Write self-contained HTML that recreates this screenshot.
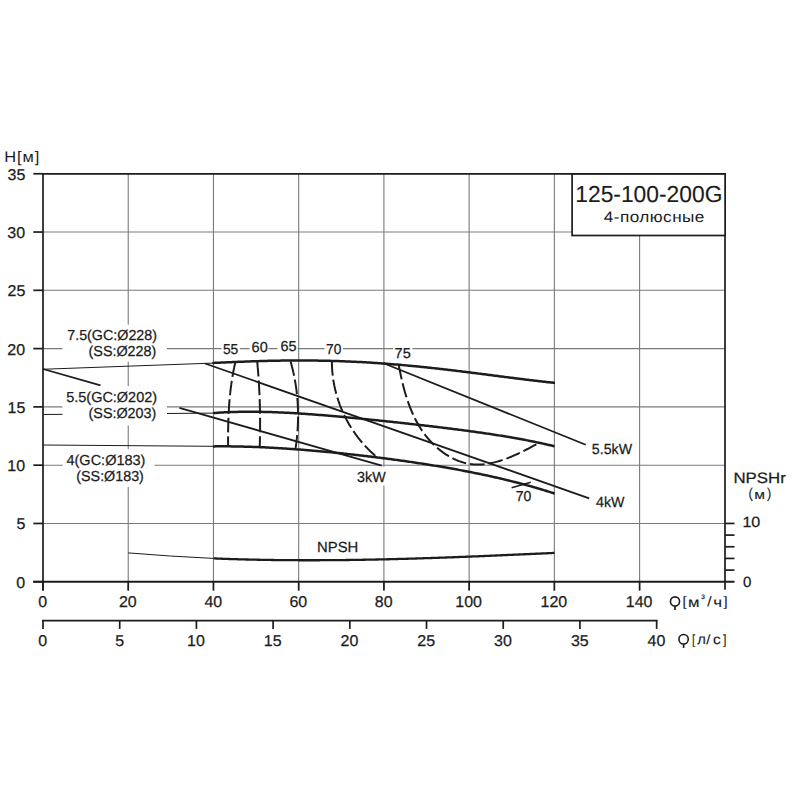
<!DOCTYPE html>
<html><head><meta charset="utf-8"><style>html,body{margin:0;padding:0;background:#fff;width:800px;height:800px;overflow:hidden}svg{display:block}</style></head>
<body><svg width="800" height="800" viewBox="0 0 800 800">
<rect width="800" height="800" fill="#fff"/>
<line x1="128.23" y1="173.75" x2="128.23" y2="590.5" stroke="#7a7a7a" stroke-width="1.1"/>
<line x1="213.46" y1="173.75" x2="213.46" y2="590.5" stroke="#7a7a7a" stroke-width="1.1"/>
<line x1="298.68" y1="173.75" x2="298.68" y2="590.5" stroke="#7a7a7a" stroke-width="1.1"/>
<line x1="383.91" y1="173.75" x2="383.91" y2="590.5" stroke="#7a7a7a" stroke-width="1.1"/>
<line x1="469.14" y1="173.75" x2="469.14" y2="590.5" stroke="#7a7a7a" stroke-width="1.1"/>
<line x1="554.37" y1="173.75" x2="554.37" y2="590.5" stroke="#7a7a7a" stroke-width="1.1"/>
<line x1="639.60" y1="173.75" x2="639.60" y2="590.5" stroke="#7a7a7a" stroke-width="1.1"/>
<line x1="43" y1="523.47" x2="725" y2="523.47" stroke="#7a7a7a" stroke-width="1.1"/>
<line x1="43" y1="465.18" x2="725" y2="465.18" stroke="#7a7a7a" stroke-width="1.1"/>
<line x1="43" y1="406.89" x2="725" y2="406.89" stroke="#7a7a7a" stroke-width="1.1"/>
<line x1="43" y1="348.61" x2="725" y2="348.61" stroke="#7a7a7a" stroke-width="1.1"/>
<line x1="43" y1="290.32" x2="725" y2="290.32" stroke="#7a7a7a" stroke-width="1.1"/>
<line x1="43" y1="232.04" x2="725" y2="232.04" stroke="#7a7a7a" stroke-width="1.1"/>
<line x1="43" y1="369.25" x2="213" y2="363.1" stroke="#1c1c1c" stroke-width="1"/>
<line x1="43" y1="414.5" x2="213" y2="413.1" stroke="#1c1c1c" stroke-width="1"/>
<line x1="43" y1="445" x2="213" y2="446.3" stroke="#1c1c1c" stroke-width="1"/>
<path d="M128.2,552.9 Q170,556.4 213.5,558.4" fill="none" stroke="#1c1c1c" stroke-width="1"/>
<path d="M43,369 L100.5,385.4 M179.4,407.9 L381.75,465.65" stroke="#1c1c1c" stroke-width="1.8"/>
<line x1="205" y1="363.5" x2="589.2" y2="498.3" stroke="#1c1c1c" stroke-width="1.8"/>
<line x1="383" y1="363" x2="585.75" y2="444.75" stroke="#1c1c1c" stroke-width="1.8"/>
<rect x="62.5" y="324.6" width="104.5" height="37.1" fill="#fff"/>
<rect x="62.5" y="386" width="104.5" height="39.5" fill="#fff"/>
<rect x="62.75" y="449.25" width="91.85" height="37.65" fill="#fff"/>
<rect x="355" y="466.8" width="34" height="18.8" fill="#fff"/>
<rect x="221.5" y="341" width="18.5" height="14" fill="#fff"/>
<rect x="249.5" y="341" width="19.0" height="14" fill="#fff"/>
<rect x="277.5" y="341" width="20.100000000000023" height="14" fill="#fff"/>
<rect x="324.5" y="341" width="18.5" height="14" fill="#fff"/>
<rect x="393" y="341" width="19.5" height="14" fill="#fff"/>
<line x1="33.3" y1="581.75" x2="43" y2="581.75" stroke="#1c1c1c" stroke-width="1.7"/>
<line x1="33.3" y1="523.47" x2="43" y2="523.47" stroke="#1c1c1c" stroke-width="1.7"/>
<line x1="33.3" y1="465.18" x2="43" y2="465.18" stroke="#1c1c1c" stroke-width="1.7"/>
<line x1="33.3" y1="406.89" x2="43" y2="406.89" stroke="#1c1c1c" stroke-width="1.7"/>
<line x1="33.3" y1="348.61" x2="43" y2="348.61" stroke="#1c1c1c" stroke-width="1.7"/>
<line x1="33.3" y1="290.32" x2="43" y2="290.32" stroke="#1c1c1c" stroke-width="1.7"/>
<line x1="33.3" y1="232.04" x2="43" y2="232.04" stroke="#1c1c1c" stroke-width="1.7"/>
<line x1="33.3" y1="173.75" x2="43" y2="173.75" stroke="#1c1c1c" stroke-width="1.7"/>
<line x1="43.00" y1="581.75" x2="43.00" y2="590.6" stroke="#1c1c1c" stroke-width="1.7"/>
<line x1="128.23" y1="581.75" x2="128.23" y2="590.6" stroke="#1c1c1c" stroke-width="1.7"/>
<line x1="213.46" y1="581.75" x2="213.46" y2="590.6" stroke="#1c1c1c" stroke-width="1.7"/>
<line x1="298.68" y1="581.75" x2="298.68" y2="590.6" stroke="#1c1c1c" stroke-width="1.7"/>
<line x1="383.91" y1="581.75" x2="383.91" y2="590.6" stroke="#1c1c1c" stroke-width="1.7"/>
<line x1="469.14" y1="581.75" x2="469.14" y2="590.6" stroke="#1c1c1c" stroke-width="1.7"/>
<line x1="554.37" y1="581.75" x2="554.37" y2="590.6" stroke="#1c1c1c" stroke-width="1.7"/>
<line x1="639.60" y1="581.75" x2="639.60" y2="590.6" stroke="#1c1c1c" stroke-width="1.7"/>
<line x1="42.15" y1="173.9" x2="725.85" y2="173.9" stroke="#1c1c1c" stroke-width="1.8"/>
<line x1="43" y1="173" x2="43" y2="590.6" stroke="#1c1c1c" stroke-width="1.7"/>
<line x1="725" y1="173" x2="725" y2="589.7" stroke="#1c1c1c" stroke-width="1.7"/>
<line x1="33.3" y1="581.75" x2="734.5" y2="581.75" stroke="#1c1c1c" stroke-width="1.8"/>
<line x1="725" y1="570.09" x2="734.5" y2="570.09" stroke="#1c1c1c" stroke-width="1.7"/>
<line x1="725" y1="558.43" x2="734.5" y2="558.43" stroke="#1c1c1c" stroke-width="1.7"/>
<line x1="725" y1="546.77" x2="734.5" y2="546.77" stroke="#1c1c1c" stroke-width="1.7"/>
<line x1="725" y1="535.11" x2="734.5" y2="535.11" stroke="#1c1c1c" stroke-width="1.7"/>
<line x1="725" y1="523.45" x2="734.5" y2="523.45" stroke="#1c1c1c" stroke-width="1.7"/>
<line x1="42.15" y1="620.6" x2="657.49" y2="620.6" stroke="#1c1c1c" stroke-width="1.7"/>
<line x1="43.00" y1="620" x2="43.00" y2="628.9" stroke="#1c1c1c" stroke-width="1.7"/>
<line x1="119.71" y1="620" x2="119.71" y2="628.9" stroke="#1c1c1c" stroke-width="1.7"/>
<line x1="196.41" y1="620" x2="196.41" y2="628.9" stroke="#1c1c1c" stroke-width="1.7"/>
<line x1="273.12" y1="620" x2="273.12" y2="628.9" stroke="#1c1c1c" stroke-width="1.7"/>
<line x1="349.82" y1="620" x2="349.82" y2="628.9" stroke="#1c1c1c" stroke-width="1.7"/>
<line x1="426.53" y1="620" x2="426.53" y2="628.9" stroke="#1c1c1c" stroke-width="1.7"/>
<line x1="503.23" y1="620" x2="503.23" y2="628.9" stroke="#1c1c1c" stroke-width="1.7"/>
<line x1="579.94" y1="620" x2="579.94" y2="628.9" stroke="#1c1c1c" stroke-width="1.7"/>
<line x1="656.64" y1="620" x2="656.64" y2="628.9" stroke="#1c1c1c" stroke-width="1.7"/>
<rect x="572.1" y="174" width="153" height="61.5" fill="#fff" stroke="#1c1c1c" stroke-width="1.7"/>
<path d="M212.50,363.00 L213.93,362.93 L215.37,362.87 L216.80,362.80 L218.23,362.73 L219.67,362.66 L221.10,362.60 L222.53,362.53 L223.96,362.47 L225.40,362.40 L226.83,362.34 L228.26,362.27 L229.70,362.21 L231.13,362.15 L232.56,362.09 L234.00,362.03 L235.43,361.97 L236.86,361.91 L238.29,361.85 L239.73,361.79 L241.16,361.74 L242.59,361.68 L244.03,361.63 L245.46,361.57 L246.89,361.52 L248.33,361.47 L249.76,361.42 L251.19,361.37 L252.63,361.32 L254.06,361.27 L255.49,361.23 L256.92,361.18 L258.36,361.14 L259.79,361.10 L261.22,361.06 L262.66,361.02 L264.09,360.98 L265.52,360.94 L266.96,360.91 L268.39,360.87 L269.82,360.84 L271.26,360.81 L272.69,360.78 L274.12,360.75 L275.55,360.72 L276.99,360.69 L278.42,360.67 L279.85,360.64 L281.29,360.62 L282.72,360.60 L284.15,360.58 L285.59,360.57 L287.02,360.55 L288.45,360.54 L289.88,360.53 L291.32,360.51 L292.75,360.50 L294.18,360.50 L295.62,360.49 L297.05,360.49 L298.48,360.48 L299.92,360.48 L301.35,360.48 L302.78,360.49 L304.22,360.49 L305.65,360.50 L307.08,360.50 L308.51,360.51 L309.95,360.52 L311.38,360.54 L312.81,360.55 L314.25,360.57 L315.68,360.58 L317.11,360.60 L318.55,360.63 L319.98,360.65 L321.41,360.67 L322.85,360.70 L324.28,360.73 L325.71,360.76 L327.14,360.79 L328.58,360.83 L330.01,360.86 L331.44,360.90 L332.88,360.94 L334.31,360.98 L335.74,361.03 L337.18,361.07 L338.61,361.12 L340.04,361.17 L341.47,361.22 L342.91,361.27 L344.34,361.33 L345.77,361.38 L347.21,361.44 L348.64,361.50 L350.07,361.56 L351.51,361.63 L352.94,361.69 L354.37,361.76 L355.81,361.83 L357.24,361.90 L358.67,361.97 L360.10,362.05 L361.54,362.12 L362.97,362.20 L364.40,362.28 L365.84,362.36 L367.27,362.45 L368.70,362.53 L370.14,362.62 L371.57,362.71 L373.00,362.80 L374.44,362.89 L375.87,362.99 L377.30,363.09 L378.73,363.18 L380.17,363.28 L381.60,363.39 L383.03,363.49 L384.47,363.59 L385.90,363.70 L387.33,363.81 L388.77,363.92 L390.20,364.03 L391.63,364.15 L393.06,364.26 L394.50,364.38 L395.93,364.50 L397.36,364.62 L398.80,364.74 L400.23,364.86 L401.66,364.99 L403.10,365.12 L404.53,365.24 L405.96,365.37 L407.40,365.51 L408.83,365.64 L410.26,365.77 L411.69,365.91 L413.13,366.05 L414.56,366.19 L415.99,366.33 L417.43,366.47 L418.86,366.61 L420.29,366.76 L421.73,366.90 L423.16,367.05 L424.59,367.20 L426.03,367.35 L427.46,367.50 L428.89,367.65 L430.32,367.81 L431.76,367.96 L433.19,368.12 L434.62,368.28 L436.06,368.43 L437.49,368.59 L438.92,368.76 L440.36,368.92 L441.79,369.08 L443.22,369.25 L444.65,369.41 L446.09,369.58 L447.52,369.75 L448.95,369.91 L450.39,370.08 L451.82,370.25 L453.25,370.42 L454.69,370.60 L456.12,370.77 L457.55,370.94 L458.99,371.12 L460.42,371.29 L461.85,371.47 L463.28,371.65 L464.72,371.82 L466.15,372.00 L467.58,372.18 L469.02,372.36 L470.45,372.54 L471.88,372.72 L473.32,372.90 L474.75,373.08 L476.18,373.26 L477.62,373.45 L479.05,373.63 L480.48,373.81 L481.91,374.00 L483.35,374.18 L484.78,374.36 L486.21,374.55 L487.65,374.73 L489.08,374.92 L490.51,375.10 L491.95,375.28 L493.38,375.47 L494.81,375.65 L496.24,375.84 L497.68,376.02 L499.11,376.21 L500.54,376.39 L501.98,376.58 L503.41,376.76 L504.84,376.94 L506.28,377.13 L507.71,377.31 L509.14,377.49 L510.58,377.67 L512.01,377.86 L513.44,378.04 L514.87,378.22 L516.31,378.40 L517.74,378.58 L519.17,378.76 L520.61,378.94 L522.04,379.11 L523.47,379.29 L524.91,379.47 L526.34,379.64 L527.77,379.82 L529.21,379.99 L530.64,380.16 L532.07,380.33 L533.50,380.50 L534.94,380.67 L536.37,380.84 L537.80,381.01 L539.24,381.17 L540.67,381.34 L542.10,381.50 L543.54,381.66 L544.97,381.82 L546.40,381.98 L547.83,382.14 L549.27,382.29 L550.70,382.44 L552.13,382.60 L553.57,382.75 L555.00,382.89" fill="none" stroke="#1c1c1c" stroke-width="2.5" stroke-linejoin="round"/>
<path d="M213.10,413.11 L214.53,413.00 L215.96,412.90 L217.39,412.79 L218.81,412.70 L220.24,412.61 L221.67,412.52 L223.10,412.44 L224.53,412.36 L225.96,412.29 L227.38,412.22 L228.81,412.16 L230.24,412.10 L231.67,412.05 L233.10,412.00 L234.53,411.96 L235.96,411.92 L237.38,411.88 L238.81,411.85 L240.24,411.82 L241.67,411.80 L243.10,411.78 L244.53,411.76 L245.95,411.75 L247.38,411.74 L248.81,411.74 L250.24,411.73 L251.67,411.74 L253.10,411.74 L254.53,411.75 L255.95,411.76 L257.38,411.78 L258.81,411.80 L260.24,411.82 L261.67,411.85 L263.10,411.88 L264.52,411.91 L265.95,411.94 L267.38,411.98 L268.81,412.02 L270.24,412.07 L271.67,412.11 L273.09,412.16 L274.52,412.21 L275.95,412.27 L277.38,412.32 L278.81,412.38 L280.24,412.45 L281.67,412.51 L283.09,412.58 L284.52,412.65 L285.95,412.72 L287.38,412.79 L288.81,412.87 L290.24,412.94 L291.66,413.02 L293.09,413.11 L294.52,413.19 L295.95,413.28 L297.38,413.36 L298.81,413.45 L300.24,413.55 L301.66,413.64 L303.09,413.73 L304.52,413.83 L305.95,413.93 L307.38,414.03 L308.81,414.13 L310.23,414.24 L311.66,414.34 L313.09,414.45 L314.52,414.56 L315.95,414.67 L317.38,414.78 L318.81,414.89 L320.23,415.00 L321.66,415.12 L323.09,415.23 L324.52,415.35 L325.95,415.47 L327.38,415.59 L328.80,415.71 L330.23,415.83 L331.66,415.96 L333.09,416.08 L334.52,416.21 L335.95,416.33 L337.38,416.46 L338.80,416.59 L340.23,416.72 L341.66,416.85 L343.09,416.98 L344.52,417.11 L345.95,417.24 L347.37,417.38 L348.80,417.51 L350.23,417.65 L351.66,417.79 L353.09,417.92 L354.52,418.06 L355.95,418.20 L357.37,418.34 L358.80,418.48 L360.23,418.62 L361.66,418.76 L363.09,418.90 L364.52,419.04 L365.94,419.19 L367.37,419.33 L368.80,419.48 L370.23,419.62 L371.66,419.77 L373.09,419.91 L374.52,420.06 L375.94,420.21 L377.37,420.35 L378.80,420.50 L380.23,420.65 L381.66,420.80 L383.09,420.95 L384.51,421.10 L385.94,421.25 L387.37,421.40 L388.80,421.55 L390.23,421.71 L391.66,421.86 L393.08,422.01 L394.51,422.17 L395.94,422.32 L397.37,422.48 L398.80,422.63 L400.23,422.79 L401.66,422.94 L403.08,423.10 L404.51,423.26 L405.94,423.42 L407.37,423.57 L408.80,423.73 L410.23,423.89 L411.65,424.05 L413.08,424.21 L414.51,424.37 L415.94,424.53 L417.37,424.70 L418.80,424.86 L420.23,425.02 L421.65,425.18 L423.08,425.35 L424.51,425.51 L425.94,425.68 L427.37,425.84 L428.80,426.01 L430.22,426.18 L431.65,426.35 L433.08,426.52 L434.51,426.68 L435.94,426.85 L437.37,427.03 L438.80,427.20 L440.22,427.37 L441.65,427.54 L443.08,427.72 L444.51,427.89 L445.94,428.07 L447.37,428.24 L448.79,428.42 L450.22,428.60 L451.65,428.78 L453.08,428.96 L454.51,429.14 L455.94,429.32 L457.37,429.50 L458.79,429.69 L460.22,429.87 L461.65,430.06 L463.08,430.24 L464.51,430.43 L465.94,430.62 L467.36,430.81 L468.79,431.01 L470.22,431.20 L471.65,431.39 L473.08,431.59 L474.51,431.79 L475.94,431.98 L477.36,432.19 L478.79,432.39 L480.22,432.59 L481.65,432.79 L483.08,433.00 L484.51,433.21 L485.93,433.42 L487.36,433.63 L488.79,433.84 L490.22,434.06 L491.65,434.27 L493.08,434.49 L494.51,434.71 L495.93,434.93 L497.36,435.16 L498.79,435.38 L500.22,435.61 L501.65,435.84 L503.08,436.07 L504.50,436.31 L505.93,436.54 L507.36,436.78 L508.79,437.02 L510.22,437.27 L511.65,437.51 L513.07,437.76 L514.50,438.01 L515.93,438.27 L517.36,438.52 L518.79,438.78 L520.22,439.04 L521.65,439.31 L523.07,439.57 L524.50,439.84 L525.93,440.12 L527.36,440.39 L528.79,440.67 L530.22,440.95 L531.64,441.24 L533.07,441.53 L534.50,441.82 L535.93,442.11 L537.36,442.41 L538.79,442.71 L540.22,443.02 L541.64,443.33 L543.07,443.64 L544.50,443.96 L545.93,444.27 L547.36,444.60 L548.79,444.93 L550.21,445.26 L551.64,445.59 L553.07,445.93 L554.50,446.27" fill="none" stroke="#1c1c1c" stroke-width="2.5" stroke-linejoin="round"/>
<path d="M213.00,446.40 L214.43,446.39 L215.86,446.37 L217.29,446.36 L218.72,446.35 L220.14,446.34 L221.57,446.34 L223.00,446.34 L224.43,446.34 L225.86,446.34 L227.29,446.35 L228.72,446.36 L230.15,446.37 L231.58,446.39 L233.00,446.40 L234.43,446.42 L235.86,446.45 L237.29,446.47 L238.72,446.50 L240.15,446.53 L241.58,446.56 L243.01,446.60 L244.44,446.63 L245.86,446.67 L247.29,446.71 L248.72,446.76 L250.15,446.80 L251.58,446.85 L253.01,446.90 L254.44,446.95 L255.87,447.00 L257.29,447.06 L258.72,447.12 L260.15,447.18 L261.58,447.24 L263.01,447.31 L264.44,447.37 L265.87,447.44 L267.30,447.51 L268.73,447.58 L270.15,447.66 L271.58,447.73 L273.01,447.81 L274.44,447.89 L275.87,447.97 L277.30,448.05 L278.73,448.14 L280.16,448.22 L281.59,448.31 L283.01,448.40 L284.44,448.49 L285.87,448.59 L287.30,448.68 L288.73,448.78 L290.16,448.88 L291.59,448.98 L293.02,449.08 L294.45,449.18 L295.87,449.28 L297.30,449.39 L298.73,449.50 L300.16,449.61 L301.59,449.72 L303.02,449.83 L304.45,449.94 L305.88,450.06 L307.31,450.17 L308.73,450.29 L310.16,450.41 L311.59,450.53 L313.02,450.65 L314.45,450.77 L315.88,450.90 L317.31,451.03 L318.74,451.15 L320.17,451.28 L321.59,451.41 L323.02,451.54 L324.45,451.67 L325.88,451.81 L327.31,451.94 L328.74,452.08 L330.17,452.22 L331.60,452.36 L333.03,452.50 L334.45,452.64 L335.88,452.78 L337.31,452.92 L338.74,453.07 L340.17,453.22 L341.60,453.36 L343.03,453.51 L344.46,453.66 L345.88,453.81 L347.31,453.97 L348.74,454.12 L350.17,454.27 L351.60,454.43 L353.03,454.59 L354.46,454.75 L355.89,454.91 L357.32,455.07 L358.74,455.23 L360.17,455.39 L361.60,455.56 L363.03,455.72 L364.46,455.89 L365.89,456.06 L367.32,456.23 L368.75,456.40 L370.18,456.57 L371.60,456.74 L373.03,456.92 L374.46,457.09 L375.89,457.27 L377.32,457.44 L378.75,457.62 L380.18,457.80 L381.61,457.99 L383.04,458.17 L384.46,458.35 L385.89,458.54 L387.32,458.72 L388.75,458.91 L390.18,459.10 L391.61,459.29 L393.04,459.48 L394.47,459.67 L395.90,459.87 L397.32,460.06 L398.75,460.26 L400.18,460.46 L401.61,460.66 L403.04,460.86 L404.47,461.06 L405.90,461.26 L407.33,461.47 L408.76,461.67 L410.18,461.88 L411.61,462.09 L413.04,462.30 L414.47,462.51 L415.90,462.72 L417.33,462.94 L418.76,463.15 L420.19,463.37 L421.62,463.59 L423.04,463.81 L424.47,464.03 L425.90,464.26 L427.33,464.48 L428.76,464.71 L430.19,464.94 L431.62,465.17 L433.05,465.40 L434.47,465.63 L435.90,465.87 L437.33,466.10 L438.76,466.34 L440.19,466.58 L441.62,466.82 L443.05,467.06 L444.48,467.31 L445.91,467.56 L447.33,467.81 L448.76,468.06 L450.19,468.31 L451.62,468.56 L453.05,468.82 L454.48,469.08 L455.91,469.34 L457.34,469.60 L458.77,469.86 L460.19,470.13 L461.62,470.39 L463.05,470.66 L464.48,470.94 L465.91,471.21 L467.34,471.49 L468.77,471.76 L470.20,472.04 L471.63,472.33 L473.05,472.61 L474.48,472.90 L475.91,473.19 L477.34,473.48 L478.77,473.77 L480.20,474.07 L481.63,474.37 L483.06,474.67 L484.49,474.97 L485.91,475.28 L487.34,475.59 L488.77,475.90 L490.20,476.21 L491.63,476.53 L493.06,476.85 L494.49,477.17 L495.92,477.49 L497.35,477.82 L498.77,478.15 L500.20,478.48 L501.63,478.81 L503.06,479.15 L504.49,479.49 L505.92,479.84 L507.35,480.18 L508.78,480.53 L510.21,480.89 L511.63,481.24 L513.06,481.60 L514.49,481.96 L515.92,482.33 L517.35,482.69 L518.78,483.07 L520.21,483.44 L521.64,483.82 L523.06,484.20 L524.49,484.58 L525.92,484.97 L527.35,485.36 L528.78,485.76 L530.21,486.16 L531.64,486.56 L533.07,486.96 L534.50,487.37 L535.92,487.79 L537.35,488.20 L538.78,488.62 L540.21,489.05 L541.64,489.47 L543.07,489.91 L544.50,490.34 L545.93,490.78 L547.36,491.23 L548.78,491.67 L550.21,492.13 L551.64,492.58 L553.07,493.04 L554.50,493.51" fill="none" stroke="#1c1c1c" stroke-width="2.5" stroke-linejoin="round"/>
<path d="M213.50,558.40 L214.93,558.46 L216.35,558.52 L217.78,558.57 L219.21,558.63 L220.63,558.68 L222.06,558.73 L223.49,558.78 L224.91,558.84 L226.34,558.88 L227.77,558.93 L229.19,558.98 L230.62,559.03 L232.05,559.07 L233.47,559.12 L234.90,559.16 L236.33,559.21 L237.76,559.25 L239.18,559.29 L240.61,559.33 L242.04,559.37 L243.46,559.41 L244.89,559.44 L246.32,559.48 L247.74,559.52 L249.17,559.55 L250.60,559.58 L252.02,559.62 L253.45,559.65 L254.88,559.68 L256.30,559.71 L257.73,559.74 L259.16,559.77 L260.58,559.80 L262.01,559.82 L263.44,559.85 L264.86,559.87 L266.29,559.90 L267.72,559.92 L269.14,559.94 L270.57,559.97 L272.00,559.99 L273.42,560.01 L274.85,560.03 L276.28,560.04 L277.71,560.06 L279.13,560.08 L280.56,560.09 L281.99,560.11 L283.41,560.12 L284.84,560.14 L286.27,560.15 L287.69,560.16 L289.12,560.17 L290.55,560.18 L291.97,560.19 L293.40,560.20 L294.83,560.21 L296.25,560.22 L297.68,560.22 L299.11,560.23 L300.53,560.23 L301.96,560.24 L303.39,560.24 L304.81,560.24 L306.24,560.25 L307.67,560.25 L309.09,560.25 L310.52,560.25 L311.95,560.25 L313.37,560.24 L314.80,560.24 L316.23,560.24 L317.65,560.23 L319.08,560.23 L320.51,560.22 L321.94,560.22 L323.36,560.21 L324.79,560.20 L326.22,560.20 L327.64,560.19 L329.07,560.18 L330.50,560.17 L331.92,560.16 L333.35,560.15 L334.78,560.13 L336.20,560.12 L337.63,560.11 L339.06,560.09 L340.48,560.08 L341.91,560.06 L343.34,560.05 L344.76,560.03 L346.19,560.01 L347.62,560.00 L349.04,559.98 L350.47,559.96 L351.90,559.94 L353.32,559.92 L354.75,559.90 L356.18,559.88 L357.60,559.85 L359.03,559.83 L360.46,559.81 L361.88,559.78 L363.31,559.76 L364.74,559.74 L366.17,559.71 L367.59,559.68 L369.02,559.66 L370.45,559.63 L371.87,559.60 L373.30,559.57 L374.73,559.54 L376.15,559.52 L377.58,559.49 L379.01,559.45 L380.43,559.42 L381.86,559.39 L383.29,559.36 L384.71,559.33 L386.14,559.29 L387.57,559.26 L388.99,559.23 L390.42,559.19 L391.85,559.16 L393.27,559.12 L394.70,559.08 L396.13,559.05 L397.55,559.01 L398.98,558.97 L400.41,558.94 L401.83,558.90 L403.26,558.86 L404.69,558.82 L406.12,558.78 L407.54,558.74 L408.97,558.70 L410.40,558.66 L411.82,558.61 L413.25,558.57 L414.68,558.53 L416.10,558.49 L417.53,558.44 L418.96,558.40 L420.38,558.35 L421.81,558.31 L423.24,558.26 L424.66,558.22 L426.09,558.17 L427.52,558.13 L428.94,558.08 L430.37,558.03 L431.80,557.99 L433.22,557.94 L434.65,557.89 L436.08,557.84 L437.50,557.79 L438.93,557.74 L440.36,557.69 L441.78,557.64 L443.21,557.59 L444.64,557.54 L446.06,557.49 L447.49,557.44 L448.92,557.39 L450.35,557.34 L451.77,557.28 L453.20,557.23 L454.63,557.18 L456.05,557.12 L457.48,557.07 L458.91,557.02 L460.33,556.96 L461.76,556.91 L463.19,556.85 L464.61,556.80 L466.04,556.74 L467.47,556.68 L468.89,556.63 L470.32,556.57 L471.75,556.52 L473.17,556.46 L474.60,556.40 L476.03,556.34 L477.45,556.29 L478.88,556.23 L480.31,556.17 L481.73,556.11 L483.16,556.05 L484.59,555.99 L486.01,555.94 L487.44,555.88 L488.87,555.82 L490.29,555.76 L491.72,555.70 L493.15,555.64 L494.58,555.58 L496.00,555.51 L497.43,555.45 L498.86,555.39 L500.28,555.33 L501.71,555.27 L503.14,555.21 L504.56,555.15 L505.99,555.08 L507.42,555.02 L508.84,554.96 L510.27,554.90 L511.70,554.84 L513.12,554.77 L514.55,554.71 L515.98,554.65 L517.40,554.58 L518.83,554.52 L520.26,554.46 L521.68,554.39 L523.11,554.33 L524.54,554.26 L525.96,554.20 L527.39,554.14 L528.82,554.07 L530.24,554.01 L531.67,553.94 L533.10,553.88 L534.53,553.81 L535.95,553.75 L537.38,553.68 L538.81,553.62 L540.23,553.56 L541.66,553.49 L543.09,553.42 L544.51,553.36 L545.94,553.29 L547.37,553.23 L548.79,553.16 L550.22,553.10 L551.65,553.03 L553.07,552.97 L554.50,552.90" fill="none" stroke="#1c1c1c" stroke-width="2.3"/>
<path d="M235.26,362.50 L235.16,362.91 L235.07,363.33 L234.97,363.74 L234.88,364.16 L234.79,364.57 L234.70,364.99 L234.61,365.40 L234.52,365.82 L234.43,366.23 L234.34,366.65 L234.25,367.06 L234.17,367.48 L234.08,367.89 L233.99,368.31 L233.91,368.72 L233.83,369.14 L233.74,369.55 L233.66,369.97 L233.58,370.39 L233.50,370.80 L233.42,371.22 L233.34,371.64 L233.26,372.05 L233.19,372.47 L233.11,372.88 L233.03,373.30 L232.96,373.72 L232.88,374.14 L232.81,374.55 L232.73,374.97 L232.66,375.39 L232.59,375.80 L232.52,376.22 L232.45,376.64 L232.38,377.06 L232.31,377.47 L232.24,377.89 L232.17,378.31 L232.11,378.73 L232.04,379.15 L231.97,379.56 L231.91,379.98 L231.85,380.40 L231.78,380.82 L231.72,381.24 L231.66,381.66 L231.59,382.08 L231.53,382.49 L231.47,382.91 L231.41,383.33 L231.35,383.75 L231.30,384.17 L231.24,384.59 L231.18,385.01 L231.13,385.43 L231.07,385.85 L231.01,386.27 L230.96,386.69 L230.91,387.11 L230.85,387.53 L230.80,387.95 L230.75,388.37 L230.70,388.79 L230.65,389.21 L230.59,389.63 L230.55,390.05 L230.50,390.47 L230.45,390.89 L230.40,391.31 L230.35,391.73 L230.31,392.15 L230.26,392.57 L230.21,392.99 L230.17,393.41 L230.12,393.83 L230.08,394.25 L230.04,394.67 L230.00,395.09 L229.95,395.52 L229.91,395.94 L229.87,396.36 L229.83,396.78 L229.79,397.20 L229.75,397.62 L229.71,398.04 L229.67,398.47 L229.64,398.89 L229.60,399.31 L229.56,399.73 L229.53,400.15 L229.49,400.57 L229.46,401.00 L229.42,401.42 L229.39,401.84 L229.35,402.26 L229.32,402.68 L229.29,403.11 L229.26,403.53 L229.23,403.95 L229.19,404.37 L229.16,404.79 L229.13,405.22 L229.10,405.64 L229.08,406.06 L229.05,406.48 L229.02,406.91 L228.99,407.33 L228.96,407.75 L228.94,408.17 L228.91,408.60 L228.89,409.02 L228.86,409.44 L228.84,409.87 L228.81,410.29 L228.79,410.71 L228.76,411.13 L228.74,411.56 L228.72,411.98 L228.70,412.40 L228.68,412.83 L228.65,413.25 L228.63,413.67 L228.61,414.10 L228.59,414.52 L228.57,414.94 L228.55,415.37 L228.54,415.79 L228.52,416.21 L228.50,416.64 L228.48,417.06 L228.47,417.48 L228.45,417.91 L228.43,418.33 L228.42,418.75 L228.40,419.18 L228.39,419.60 L228.37,420.02 L228.36,420.45 L228.34,420.87 L228.33,421.30 L228.32,421.72 L228.31,422.14 L228.29,422.57 L228.28,422.99 L228.27,423.41 L228.26,423.84 L228.25,424.26 L228.24,424.69 L228.23,425.11 L228.22,425.53 L228.21,425.96 L228.20,426.38 L228.19,426.80 L228.18,427.23 L228.17,427.65 L228.17,428.08 L228.16,428.50 L228.15,428.92 L228.14,429.35 L228.14,429.77 L228.13,430.20 L228.13,430.62 L228.12,431.04 L228.11,431.47 L228.11,431.89 L228.11,432.31 L228.10,432.74 L228.10,433.16 L228.09,433.59 L228.09,434.01 L228.09,434.43 L228.08,434.86 L228.08,435.28 L228.08,435.71 L228.08,436.13 L228.07,436.55 L228.07,436.98 L228.07,437.40 L228.07,437.83 L228.07,438.25 L228.07,438.67 L228.07,439.10 L228.07,439.52 L228.07,439.94 L228.07,440.37 L228.07,440.79 L228.07,441.22 L228.07,441.64 L228.07,442.06 L228.08,442.49 L228.08,442.91 L228.08,443.33 L228.08,443.76 L228.08,444.18 L228.09,444.61 L228.09,445.03 L228.09,445.45 L228.10,445.88 L228.10,446.30" fill="none" stroke="#1c1c1c" stroke-width="2" stroke-dasharray="14.6 4"/>
<path d="M257.25,362.00 L257.29,362.42 L257.33,362.85 L257.37,363.27 L257.41,363.69 L257.45,364.12 L257.49,364.54 L257.52,364.96 L257.56,365.39 L257.60,365.81 L257.64,366.23 L257.67,366.66 L257.71,367.08 L257.75,367.50 L257.78,367.93 L257.82,368.35 L257.85,368.77 L257.89,369.20 L257.92,369.62 L257.96,370.05 L257.99,370.47 L258.03,370.89 L258.06,371.32 L258.09,371.74 L258.13,372.16 L258.16,372.59 L258.19,373.01 L258.22,373.44 L258.26,373.86 L258.29,374.28 L258.32,374.71 L258.35,375.13 L258.38,375.55 L258.41,375.98 L258.44,376.40 L258.47,376.83 L258.50,377.25 L258.53,377.67 L258.56,378.10 L258.59,378.52 L258.62,378.95 L258.64,379.37 L258.67,379.80 L258.70,380.22 L258.73,380.64 L258.75,381.07 L258.78,381.49 L258.81,381.92 L258.83,382.34 L258.86,382.76 L258.89,383.19 L258.91,383.61 L258.94,384.04 L258.96,384.46 L258.99,384.89 L259.01,385.31 L259.03,385.74 L259.06,386.16 L259.08,386.58 L259.10,387.01 L259.13,387.43 L259.15,387.86 L259.17,388.28 L259.19,388.71 L259.21,389.13 L259.24,389.56 L259.26,389.98 L259.28,390.40 L259.30,390.83 L259.32,391.25 L259.34,391.68 L259.36,392.10 L259.38,392.53 L259.40,392.95 L259.42,393.38 L259.44,393.80 L259.45,394.23 L259.47,394.65 L259.49,395.08 L259.51,395.50 L259.52,395.93 L259.54,396.35 L259.56,396.77 L259.58,397.20 L259.59,397.62 L259.61,398.05 L259.62,398.47 L259.64,398.90 L259.65,399.32 L259.67,399.75 L259.68,400.17 L259.70,400.60 L259.71,401.02 L259.73,401.45 L259.74,401.87 L259.75,402.30 L259.77,402.72 L259.78,403.15 L259.79,403.57 L259.80,404.00 L259.81,404.42 L259.83,404.85 L259.84,405.27 L259.85,405.70 L259.86,406.12 L259.87,406.55 L259.88,406.97 L259.89,407.40 L259.90,407.82 L259.91,408.25 L259.92,408.67 L259.93,409.10 L259.94,409.52 L259.95,409.95 L259.95,410.37 L259.96,410.80 L259.97,411.22 L259.98,411.65 L259.99,412.07 L259.99,412.50 L260.00,412.92 L260.01,413.35 L260.01,413.77 L260.02,414.20 L260.02,414.62 L260.03,415.05 L260.03,415.47 L260.04,415.90 L260.04,416.32 L260.05,416.75 L260.05,417.17 L260.06,417.60 L260.06,418.02 L260.06,418.45 L260.07,418.87 L260.07,419.30 L260.07,419.72 L260.07,420.15 L260.08,420.57 L260.08,421.00 L260.08,421.42 L260.08,421.85 L260.08,422.27 L260.08,422.70 L260.08,423.12 L260.08,423.55 L260.09,423.97 L260.09,424.40 L260.08,424.82 L260.08,425.25 L260.08,425.68 L260.08,426.10 L260.08,426.53 L260.08,426.95 L260.08,427.38 L260.08,427.80 L260.07,428.23 L260.07,428.65 L260.07,429.08 L260.07,429.50 L260.06,429.93 L260.06,430.35 L260.05,430.78 L260.05,431.20 L260.05,431.63 L260.04,432.05 L260.04,432.48 L260.03,432.90 L260.03,433.33 L260.02,433.75 L260.02,434.18 L260.01,434.60 L260.00,435.03 L260.00,435.45 L259.99,435.88 L259.98,436.30 L259.98,436.73 L259.97,437.15 L259.96,437.58 L259.95,438.00 L259.95,438.43 L259.94,438.85 L259.93,439.28 L259.92,439.70 L259.91,440.13 L259.90,440.55 L259.89,440.98 L259.88,441.40 L259.87,441.83 L259.86,442.25 L259.85,442.68 L259.84,443.10 L259.83,443.53 L259.82,443.95 L259.81,444.38 L259.80,444.80 L259.79,445.23 L259.77,445.65 L259.76,446.08 L259.75,446.50" fill="none" stroke="#1c1c1c" stroke-width="2" stroke-dasharray="14.6 4"/>
<path d="M290.60,361.50 L290.72,361.92 L290.84,362.35 L290.95,362.77 L291.07,363.20 L291.19,363.62 L291.30,364.04 L291.42,364.47 L291.53,364.89 L291.64,365.32 L291.75,365.74 L291.87,366.17 L291.97,366.60 L292.08,367.02 L292.19,367.45 L292.30,367.87 L292.40,368.30 L292.51,368.73 L292.61,369.15 L292.71,369.58 L292.81,370.01 L292.91,370.44 L293.01,370.86 L293.11,371.29 L293.21,371.72 L293.30,372.15 L293.40,372.58 L293.49,373.01 L293.59,373.43 L293.68,373.86 L293.77,374.29 L293.86,374.72 L293.95,375.15 L294.04,375.58 L294.13,376.01 L294.21,376.44 L294.30,376.87 L294.39,377.30 L294.47,377.73 L294.55,378.16 L294.63,378.60 L294.71,379.03 L294.79,379.46 L294.87,379.89 L294.95,380.32 L295.03,380.75 L295.10,381.18 L295.18,381.62 L295.25,382.05 L295.32,382.48 L295.40,382.91 L295.47,383.35 L295.54,383.78 L295.61,384.21 L295.67,384.64 L295.74,385.08 L295.81,385.51 L295.87,385.94 L295.94,386.38 L296.00,386.81 L296.06,387.25 L296.12,387.68 L296.18,388.11 L296.24,388.55 L296.30,388.98 L296.36,389.42 L296.42,389.85 L296.47,390.29 L296.53,390.72 L296.58,391.16 L296.63,391.59 L296.68,392.03 L296.73,392.46 L296.78,392.90 L296.83,393.33 L296.88,393.77 L296.93,394.20 L296.97,394.64 L297.02,395.07 L297.06,395.51 L297.11,395.95 L297.15,396.38 L297.19,396.82 L297.23,397.25 L297.27,397.69 L297.31,398.13 L297.34,398.56 L297.38,399.00 L297.42,399.44 L297.45,399.87 L297.48,400.31 L297.52,400.75 L297.55,401.18 L297.58,401.62 L297.61,402.06 L297.64,402.50 L297.67,402.93 L297.69,403.37 L297.72,403.81 L297.74,404.25 L297.77,404.68 L297.79,405.12 L297.81,405.56 L297.83,406.00 L297.85,406.43 L297.87,406.87 L297.89,407.31 L297.91,407.75 L297.93,408.19 L297.94,408.62 L297.96,409.06 L297.97,409.50 L297.98,409.94 L298.00,410.38 L298.01,410.81 L298.02,411.25 L298.03,411.69 L298.03,412.13 L298.04,412.57 L298.05,413.00 L298.05,413.44 L298.06,413.88 L298.06,414.32 L298.06,414.76 L298.07,415.20 L298.07,415.64 L298.07,416.07 L298.06,416.51 L298.06,416.95 L298.06,417.39 L298.06,417.83 L298.05,418.27 L298.05,418.70 L298.04,419.14 L298.03,419.58 L298.02,420.02 L298.01,420.46 L298.00,420.90 L297.99,421.34 L297.98,421.77 L297.97,422.21 L297.95,422.65 L297.94,423.09 L297.92,423.53 L297.91,423.97 L297.89,424.40 L297.87,424.84 L297.85,425.28 L297.83,425.72 L297.81,426.16 L297.79,426.60 L297.76,427.03 L297.74,427.47 L297.71,427.91 L297.69,428.35 L297.66,428.79 L297.63,429.22 L297.61,429.66 L297.58,430.10 L297.55,430.54 L297.51,430.98 L297.48,431.41 L297.45,431.85 L297.42,432.29 L297.38,432.73 L297.34,433.16 L297.31,433.60 L297.27,434.04 L297.23,434.48 L297.19,434.91 L297.15,435.35 L297.11,435.79 L297.07,436.23 L297.03,436.66 L296.98,437.10 L296.94,437.54 L296.89,437.97 L296.85,438.41 L296.80,438.85 L296.75,439.28 L296.70,439.72 L296.65,440.16 L296.60,440.59 L296.55,441.03 L296.49,441.47 L296.44,441.90 L296.39,442.34 L296.33,442.78 L296.27,443.21 L296.22,443.65 L296.16,444.08 L296.10,444.52 L296.04,444.95 L295.98,445.39 L295.92,445.82 L295.85,446.26 L295.79,446.70 L295.73,447.13 L295.66,447.57 L295.60,448.00" fill="none" stroke="#1c1c1c" stroke-width="2" stroke-dasharray="14.6 4"/>
<path d="M331.90,361.00 L331.90,361.56 L331.90,362.12 L331.91,362.68 L331.92,363.24 L331.93,363.80 L331.94,364.36 L331.95,364.92 L331.97,365.48 L331.99,366.03 L332.01,366.59 L332.04,367.15 L332.07,367.71 L332.10,368.27 L332.13,368.82 L332.16,369.38 L332.20,369.94 L332.24,370.49 L332.29,371.05 L332.33,371.60 L332.38,372.16 L332.43,372.71 L332.48,373.27 L332.54,373.82 L332.60,374.38 L332.66,374.93 L332.72,375.48 L332.78,376.04 L332.85,376.59 L332.92,377.14 L333.00,377.69 L333.07,378.24 L333.15,378.79 L333.23,379.34 L333.31,379.89 L333.40,380.44 L333.49,380.99 L333.58,381.53 L333.67,382.08 L333.76,382.63 L333.86,383.17 L333.96,383.72 L334.06,384.27 L334.17,384.81 L334.28,385.35 L334.38,385.90 L334.50,386.44 L334.61,386.98 L334.73,387.52 L334.85,388.07 L334.97,388.61 L335.09,389.15 L335.22,389.69 L335.35,390.22 L335.48,390.76 L335.61,391.30 L335.75,391.84 L335.89,392.37 L336.03,392.91 L336.17,393.44 L336.32,393.98 L336.46,394.51 L336.61,395.04 L336.77,395.57 L336.92,396.10 L337.08,396.63 L337.24,397.16 L337.40,397.69 L337.56,398.22 L337.73,398.75 L337.90,399.28 L338.07,399.80 L338.24,400.33 L338.42,400.85 L338.60,401.37 L338.78,401.90 L338.96,402.42 L339.14,402.94 L339.33,403.46 L339.52,403.98 L339.71,404.50 L339.91,405.01 L340.10,405.53 L340.30,406.04 L340.50,406.56 L340.70,407.07 L340.91,407.59 L341.12,408.10 L341.33,408.61 L341.54,409.12 L341.75,409.63 L341.97,410.14 L342.19,410.64 L342.41,411.15 L342.63,411.66 L342.86,412.16 L343.08,412.66 L343.31,413.17 L343.54,413.67 L343.78,414.17 L344.01,414.67 L344.25,415.16 L344.49,415.66 L344.74,416.16 L344.98,416.65 L345.23,417.15 L345.48,417.64 L345.73,418.13 L345.98,418.62 L346.24,419.11 L346.49,419.60 L346.75,420.09 L347.02,420.57 L347.28,421.06 L347.55,421.54 L347.82,422.03 L348.09,422.51 L348.36,422.99 L348.63,423.47 L348.91,423.95 L349.19,424.42 L349.47,424.90 L349.75,425.37 L350.04,425.85 L350.33,426.32 L350.61,426.79 L350.91,427.26 L351.20,427.73 L351.50,428.19 L351.79,428.66 L352.09,429.12 L352.39,429.59 L352.70,430.05 L353.00,430.51 L353.31,430.97 L353.62,431.43 L353.93,431.88 L354.25,432.34 L354.56,432.79 L354.88,433.24 L355.20,433.69 L355.52,434.14 L355.85,434.59 L356.17,435.04 L356.50,435.49 L356.83,435.93 L357.17,436.37 L357.50,436.81 L357.84,437.25 L358.17,437.69 L358.51,438.13 L358.86,438.56 L359.20,439.00 L359.55,439.43 L359.89,439.86 L360.24,440.29 L360.59,440.72 L360.95,441.15 L361.30,441.57 L361.66,442.00 L362.02,442.42 L362.38,442.84 L362.75,443.26 L363.11,443.67 L363.48,444.09 L363.85,444.51 L364.22,444.92 L364.59,445.33 L364.97,445.74 L365.34,446.15 L365.72,446.55 L366.10,446.96 L366.49,447.36 L366.87,447.76 L367.26,448.16 L367.64,448.56 L368.03,448.96 L368.43,449.35 L368.82,449.74 L369.22,450.13 L369.61,450.52 L370.01,450.91 L370.41,451.30 L370.82,451.68 L371.22,452.07 L371.63,452.45 L372.04,452.83 L372.45,453.20 L372.86,453.58 L373.27,453.95 L373.69,454.33 L374.10,454.70 L374.52,455.06 L374.95,455.43 L375.37,455.80 L375.79,456.16 L376.22,456.52 L376.65,456.88 L377.08,457.24 L377.51,457.59" fill="none" stroke="#1c1c1c" stroke-width="2" stroke-dasharray="14.6 4"/>
<path d="M398.75,365.00 L398.93,365.98 L399.12,366.96 L399.30,367.94 L399.49,368.92 L399.68,369.91 L399.88,370.89 L400.08,371.88 L400.28,372.87 L400.48,373.86 L400.69,374.85 L400.90,375.84 L401.12,376.83 L401.33,377.83 L401.56,378.82 L401.78,379.81 L402.01,380.81 L402.25,381.80 L402.48,382.79 L402.73,383.79 L402.97,384.78 L403.22,385.78 L403.48,386.77 L403.74,387.76 L404.00,388.75 L404.27,389.74 L404.55,390.73 L404.83,391.72 L405.11,392.71 L405.40,393.70 L405.70,394.68 L406.00,395.67 L406.30,396.65 L406.61,397.63 L406.93,398.61 L407.25,399.58 L407.58,400.56 L407.91,401.53 L408.25,402.50 L408.60,403.47 L408.95,404.44 L409.31,405.40 L409.67,406.36 L410.04,407.32 L410.42,408.27 L410.80,409.23 L411.19,410.17 L411.59,411.12 L411.99,412.06 L412.40,413.00 L412.82,413.93 L413.24,414.87 L413.68,415.79 L414.12,416.72 L414.56,417.64 L415.02,418.55 L415.48,419.46 L415.95,420.37 L416.42,421.27 L416.91,422.17 L417.40,423.06 L417.90,423.95 L418.41,424.83 L418.93,425.71 L419.45,426.58 L419.99,427.45 L420.53,428.31 L421.08,429.17 L421.64,430.02 L422.21,430.86 L422.79,431.70 L423.37,432.53 L423.97,433.36 L424.57,434.18 L425.19,435.00 L425.81,435.80 L426.44,436.61 L427.08,437.40 L427.73,438.19 L428.40,438.97 L429.07,439.74 L429.75,440.51 L430.44,441.27 L431.14,442.02 L431.85,442.77 L432.57,443.50 L433.30,444.23 L434.04,444.96 L434.79,445.67 L435.55,446.37 L436.32,447.07 L437.10,447.75 L437.89,448.43 L438.68,449.10 L439.49,449.76 L440.30,450.40 L441.12,451.04 L441.95,451.66 L442.79,452.28 L443.63,452.88 L444.48,453.47 L445.34,454.05 L446.21,454.61 L447.08,455.17 L447.96,455.71 L448.84,456.24 L449.74,456.75 L450.64,457.25 L451.54,457.74 L452.45,458.21 L453.36,458.66 L454.28,459.11 L455.21,459.53 L456.14,459.95 L457.07,460.34 L458.01,460.72 L458.96,461.09 L459.91,461.43 L460.86,461.76 L461.81,462.08 L462.77,462.37 L463.73,462.65 L464.70,462.91 L465.67,463.15 L466.64,463.37 L467.61,463.58 L468.59,463.76 L469.57,463.93 L470.55,464.07 L471.53,464.20 L472.51,464.31 L473.50,464.40 L474.49,464.46 L475.47,464.52 L476.46,464.55 L477.45,464.56 L478.45,464.56 L479.44,464.54 L480.43,464.50 L481.43,464.45 L482.42,464.38 L483.42,464.29 L484.41,464.19 L485.41,464.08 L486.41,463.95 L487.41,463.80 L488.40,463.64 L489.40,463.47 L490.40,463.28 L491.39,463.08 L492.39,462.87 L493.38,462.64 L494.38,462.40 L495.37,462.15 L496.37,461.89 L497.36,461.61 L498.35,461.33 L499.34,461.03 L500.33,460.73 L501.32,460.41 L502.30,460.09 L503.29,459.75 L504.27,459.41 L505.25,459.05 L506.23,458.69 L507.21,458.32 L508.18,457.94 L509.16,457.56 L510.13,457.17 L511.10,456.77 L512.06,456.36 L513.02,455.95 L513.98,455.53 L514.94,455.11 L515.90,454.68 L516.85,454.25 L517.80,453.81 L518.74,453.37 L519.68,452.92 L520.62,452.47 L521.56,452.02 L522.49,451.56 L523.41,451.10 L524.34,450.64 L525.26,450.17 L526.17,449.71 L527.08,449.24 L527.99,448.77 L528.89,448.31 L529.79,447.84 L530.68,447.37 L531.57,446.90 L532.45,446.43 L533.33,445.96 L534.21,445.49 L535.07,445.03 L535.94,444.57 L536.79,444.11 L537.65,443.65 L538.49,443.19" fill="none" stroke="#1c1c1c" stroke-width="2" stroke-dasharray="14.6 4"/>
<line x1="511.6" y1="487.7" x2="530.75" y2="482.3" stroke="#1c1c1c" stroke-width="1.5"/>
<ellipse cx="675.00" cy="601.40" rx="4.55" ry="4.55" fill="none" stroke="#1c1c1c" stroke-width="1.6"/><line x1="675.00" y1="605.95" x2="675.00" y2="610.00" stroke="#1c1c1c" stroke-width="1.7"/>
<ellipse cx="683.60" cy="639.25" rx="4.65" ry="4.80" fill="none" stroke="#1c1c1c" stroke-width="1.6"/><line x1="683.60" y1="644.05" x2="683.60" y2="647.90" stroke="#1c1c1c" stroke-width="1.7"/>
<g font-family="Liberation Sans, sans-serif" text-rendering="geometricPrecision" fill="#1c1c1c" stroke="#1c1c1c" stroke-width="0.25">
<text transform="translate(4.27,162.30) scale(1.08,1)" font-size="15.20" letter-spacing="0.85" stroke-width="0">Н[м]</text>
<text transform="translate(733.38,482.70) scale(1.1227,1)" font-size="15.00">NPSHr</text>
<text transform="translate(742.39,527.20) scale(1.0878,1)" font-size="14.80">10</text>
<text transform="translate(742.93,586.90) scale(1.0135,1)" font-size="14.80">0</text>
<text transform="translate(575.27,201.90) scale(0.9791,1)" font-size="23.30" stroke-width="0.1">125-100-200G</text>
<text transform="translate(603.78,222.20) scale(1.13,1)" font-size="15.20" letter-spacing="0.40" stroke-width="0">4-полюсные</text>
<text transform="translate(67.23,340.30) scale(0.9862,1)" font-size="14.50">7.5(GC:Ø228)</text>
<text transform="translate(88.53,356.40) scale(0.9900,1)" font-size="14.50">(SS:Ø228)</text>
<text transform="translate(66.25,401.70) scale(0.9971,1)" font-size="14.50">5.5(GC:Ø202)</text>
<text transform="translate(88.53,418.40) scale(0.9900,1)" font-size="14.50">(SS:Ø203)</text>
<text transform="translate(66.47,464.70) scale(1.0001,1)" font-size="14.50">4(GC:Ø183)</text>
<text transform="translate(76.33,481.40) scale(0.9855,1)" font-size="14.50">(SS:Ø183)</text>
<text transform="translate(222.97,353.60) scale(0.9544,1)" font-size="14.40">55</text>
<text transform="translate(251.62,352.30) scale(1.0111,1)" font-size="14.40">60</text>
<text transform="translate(280.52,351.40) scale(1.0028,1)" font-size="14.40">65</text>
<text transform="translate(326.06,354.00) scale(0.9510,1)" font-size="14.40">70</text>
<text transform="translate(394.62,357.80) scale(1.0096,1)" font-size="14.40">75</text>
<text transform="translate(515.64,501.00) scale(0.9777,1)" font-size="14.40">70</text>
<text transform="translate(591.86,453.80) scale(0.9719,1)" font-size="14.60">5.5kW</text>
<text transform="translate(596.08,506.80) scale(0.9757,1)" font-size="14.60">4kW</text>
<text transform="translate(357.05,482.30) scale(0.9799,1)" font-size="14.60">3kW</text>
<text transform="translate(317.04,551.60) scale(1.0175,1)" font-size="14.60">NPSH</text>
<text transform="translate(748.50,498.42) scale(0.9104,1)" font-size="14.06" stroke-width="0.1">(</text>
<text transform="translate(754.32,498.90) scale(1.1873,1)" font-size="13.18" stroke-width="0.1">м</text>
<text transform="translate(767.10,498.42) scale(0.9104,1)" font-size="14.06" stroke-width="0.1">)</text>
<text transform="translate(682.49,605.64) scale(1.0808,1)" font-size="13.53" stroke-width="0.1">[</text>
<text transform="translate(688.01,606.70) scale(1.1837,1)" font-size="14.12" stroke-width="0.1">м</text>
<text transform="translate(701.20,602.05) scale(0.9929,1)" font-size="10.74" stroke-width="0.1">³</text>
<text transform="translate(707.20,606.48) scale(1.1282,1)" font-size="13.87" stroke-width="0.1">/</text>
<text transform="translate(713.25,606.70) scale(1.2031,1)" font-size="14.12" stroke-width="0.1">ч</text>
<text transform="translate(723.40,605.64) scale(1.0808,1)" font-size="13.53" stroke-width="0.1">]</text>
<text transform="translate(692.09,643.56) scale(0.8510,1)" font-size="13.43" stroke-width="0.1">[</text>
<text transform="translate(697.30,644.28) scale(1.0468,1)" font-size="14.08" stroke-width="0.1">л</text>
<text transform="translate(706.20,644.29) scale(1.1089,1)" font-size="13.47" stroke-width="0.1">/</text>
<text transform="translate(712.92,644.29) scale(1.1285,1)" font-size="13.69" stroke-width="0.1">с</text>
<text transform="translate(723.10,643.56) scale(0.9531,1)" font-size="13.43" stroke-width="0.1">]</text>
<text transform="translate(16.19,587.70) scale(1.0200,1)" font-size="15.70">0</text>
<text transform="translate(16.44,529.42) scale(1.0200,1)" font-size="15.70">5</text>
<text transform="translate(7.29,471.13) scale(1.0200,1)" font-size="15.70">10</text>
<text transform="translate(7.54,412.84) scale(1.0200,1)" font-size="15.70">15</text>
<text transform="translate(7.29,354.56) scale(1.0200,1)" font-size="15.70">20</text>
<text transform="translate(7.54,296.27) scale(1.0200,1)" font-size="15.70">25</text>
<text transform="translate(7.29,237.99) scale(1.0200,1)" font-size="15.70">30</text>
<text transform="translate(7.54,179.70) scale(1.0200,1)" font-size="15.70">35</text>
<text transform="translate(38.30,606.70) scale(1.0200,1)" font-size="15.70">0</text>
<text transform="translate(118.95,606.70) scale(1.0200,1)" font-size="15.70">20</text>
<text transform="translate(204.42,606.70) scale(1.0200,1)" font-size="15.70">40</text>
<text transform="translate(289.40,606.70) scale(1.0200,1)" font-size="15.70">60</text>
<text transform="translate(374.75,606.70) scale(1.0200,1)" font-size="15.70">80</text>
<text transform="translate(455.28,606.70) scale(1.0200,1)" font-size="15.70">100</text>
<text transform="translate(540.51,606.70) scale(1.0200,1)" font-size="15.70">120</text>
<text transform="translate(625.74,606.70) scale(1.0200,1)" font-size="15.70">140</text>
<text transform="translate(38.30,645.70) scale(1.0200,1)" font-size="15.70">0</text>
<text transform="translate(115.13,645.70) scale(1.0200,1)" font-size="15.70">5</text>
<text transform="translate(187.00,645.70) scale(1.0200,1)" font-size="15.70">10</text>
<text transform="translate(263.83,645.70) scale(1.0200,1)" font-size="15.70">15</text>
<text transform="translate(340.54,645.70) scale(1.0200,1)" font-size="15.70">20</text>
<text transform="translate(417.37,645.70) scale(1.0200,1)" font-size="15.70">25</text>
<text transform="translate(494.07,645.70) scale(1.0200,1)" font-size="15.70">30</text>
<text transform="translate(570.90,645.70) scale(1.0200,1)" font-size="15.70">35</text>
<text transform="translate(647.61,645.70) scale(1.0200,1)" font-size="15.70">40</text>
</g>
</svg></body></html>
